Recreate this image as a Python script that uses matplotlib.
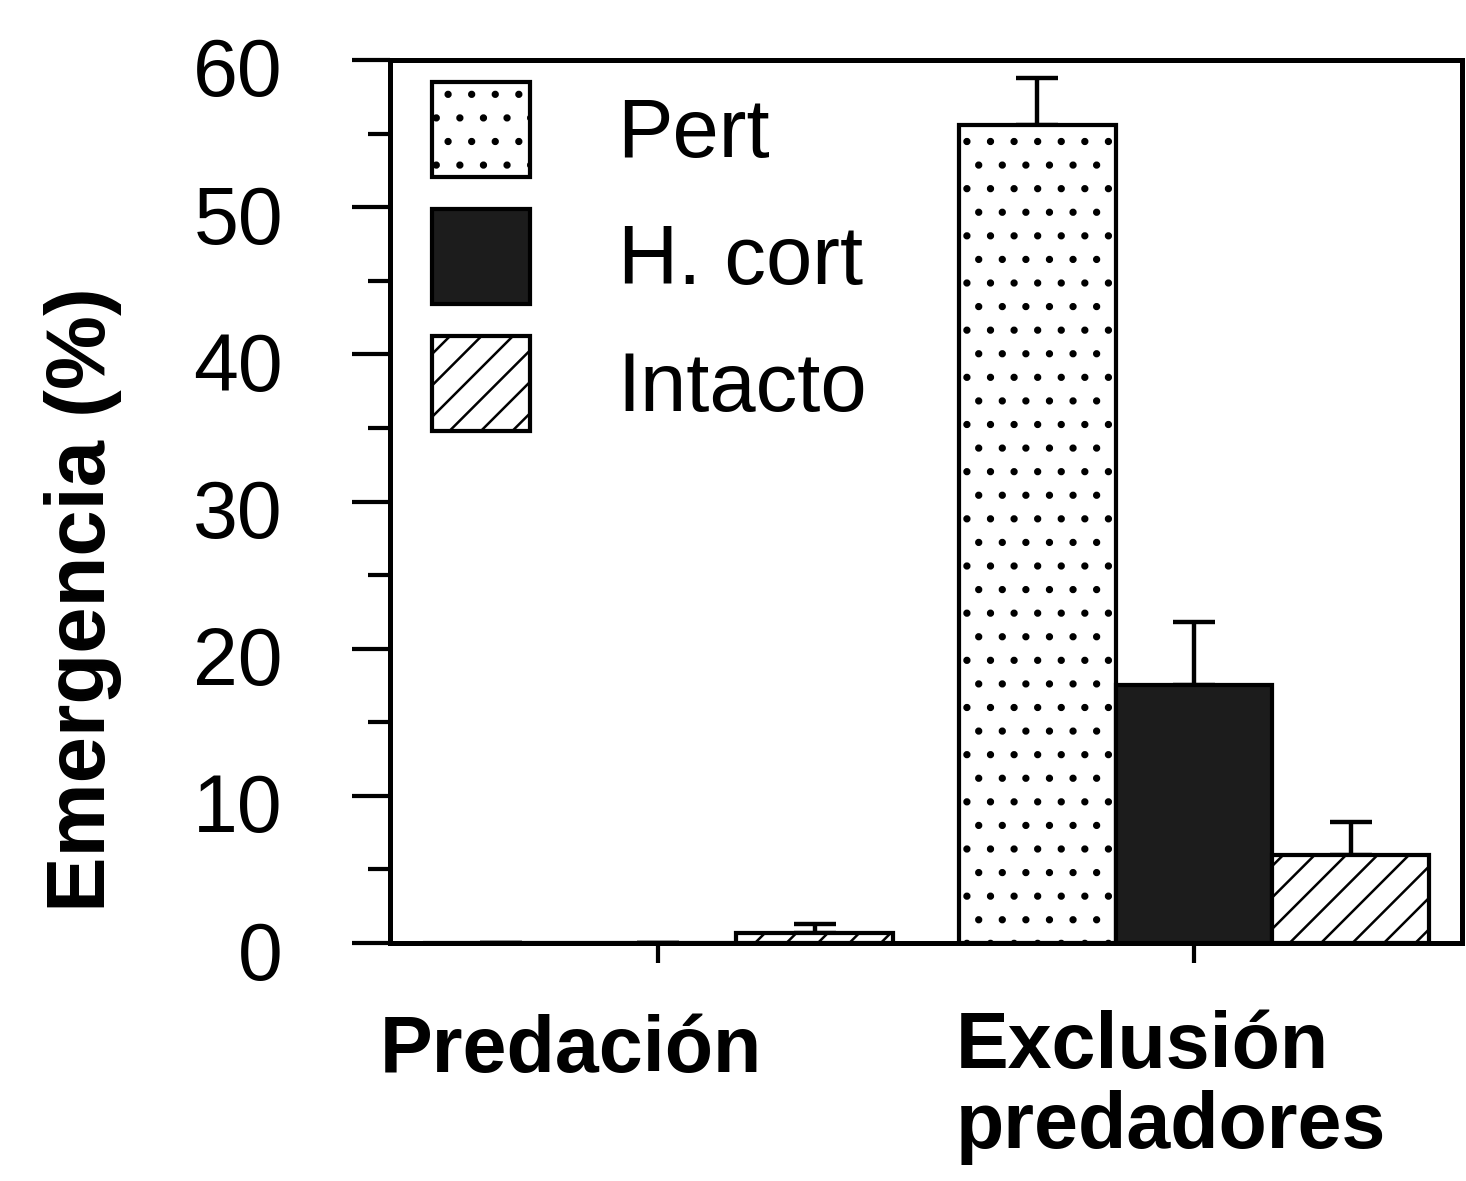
import matplotlib
matplotlib.use("Agg")
import matplotlib.pyplot as plt
import matplotlib.transforms as mtransforms
from matplotlib.ticker import MultipleLocator
import numpy as np

# Emergence (%) per treatment, grouped by predation condition
groups = ["Predación", "Exclusión\npredadores"]
series = ["Pert", "H. cort", "Intacto"]
pert = [0.0, 55.6]
pert_err = [0.0, 3.2]
hcort = [0.0, 17.5]
hcort_err = [0.0, 4.3]
intacto = [0.7, 6.0]
intacto_err = [0.6, 2.2]

DPI = 283


def pt(px):
    # pixel size -> points at the output dpi
    return px * 72.0 / DPI


plt.rcParams["font.family"] = ["Liberation Sans", "DejaVu Sans"]
plt.rcParams["hatch.linewidth"] = pt(2.5)

fig = plt.figure(figsize=(1466 / DPI, 1181 / DPI), dpi=DPI)
ax = fig.add_axes([0.266, 0.2015, 0.7313, 0.7477])

x = np.arange(len(groups))
w = 0.292
styles = [
    dict(facecolor="white", hatch="..", label=series[0]),
    dict(facecolor="#1c1c1c", label=series[1]),
    dict(facecolor="white", hatch="///", label=series[2]),
]
vals = [pert, hcort, intacto]
errs = [pert_err, hcort_err, intacto_err]

handles = []
for i, (v, e, st) in enumerate(zip(vals, errs, styles)):
    pos = x + (i - 1) * w
    b = ax.bar(pos, v, width=w, edgecolor="black", linewidth=pt(4.2), zorder=2, **st)
    handles.append(b)
    ax.errorbar(pos, v, yerr=[np.zeros(len(e)), e], fmt="none", ecolor="black",
                elinewidth=pt(4.4), capsize=pt(21), capthick=pt(4.4), zorder=1)

ax.set_ylim(0, 60)
ax.set_xlim(-0.5, 1.5)
ax.yaxis.set_major_locator(MultipleLocator(10))
ax.yaxis.set_minor_locator(MultipleLocator(5))
ax.tick_params(axis="y", which="major", direction="out", length=pt(38), width=pt(4.2),
               labelsize=pt(80.6), pad=pt(69))
ax.tick_params(axis="y", which="minor", direction="out", length=pt(22), width=pt(4.2))
ax.set_xticks(x)
ax.set_xticklabels([])
ax.tick_params(axis="x", direction="out", length=pt(20), width=pt(4.2))
for s in ax.spines.values():
    s.set_linewidth(pt(5))

# nudge y tick labels down a little
off = mtransforms.ScaledTranslation(0, -pt(7) / 72, fig.dpi_scale_trans)
for lab in ax.get_yticklabels():
    lab.set_transform(lab.get_transform() + off)

# group labels, left aligned
tr = ax.get_xaxis_transform()
ax.text(-0.519, -0.146, groups[0], transform=tr, ha="left", va="baseline",
        fontsize=pt(79), fontweight="bold")
ax.text(0.555, -0.232, groups[1], transform=tr, ha="left", va="baseline",
        fontsize=pt(79), fontweight="bold", linespacing=1.08)

fig.text(0.0566, 0.492, "Emergencia (%)", rotation=90, ha="center", va="center",
         fontsize=pt(83.3), fontweight="bold")

ax.legend(handles=handles, loc="upper left", bbox_to_anchor=(0.039, 0.975),
          frameon=False, fontsize=pt(83.3), handlelength=1.18, handleheight=1.38,
          labelspacing=0.38, handletextpad=1.05, borderpad=0, borderaxespad=0)

fig.savefig("out.png", dpi=DPI, facecolor="white")
